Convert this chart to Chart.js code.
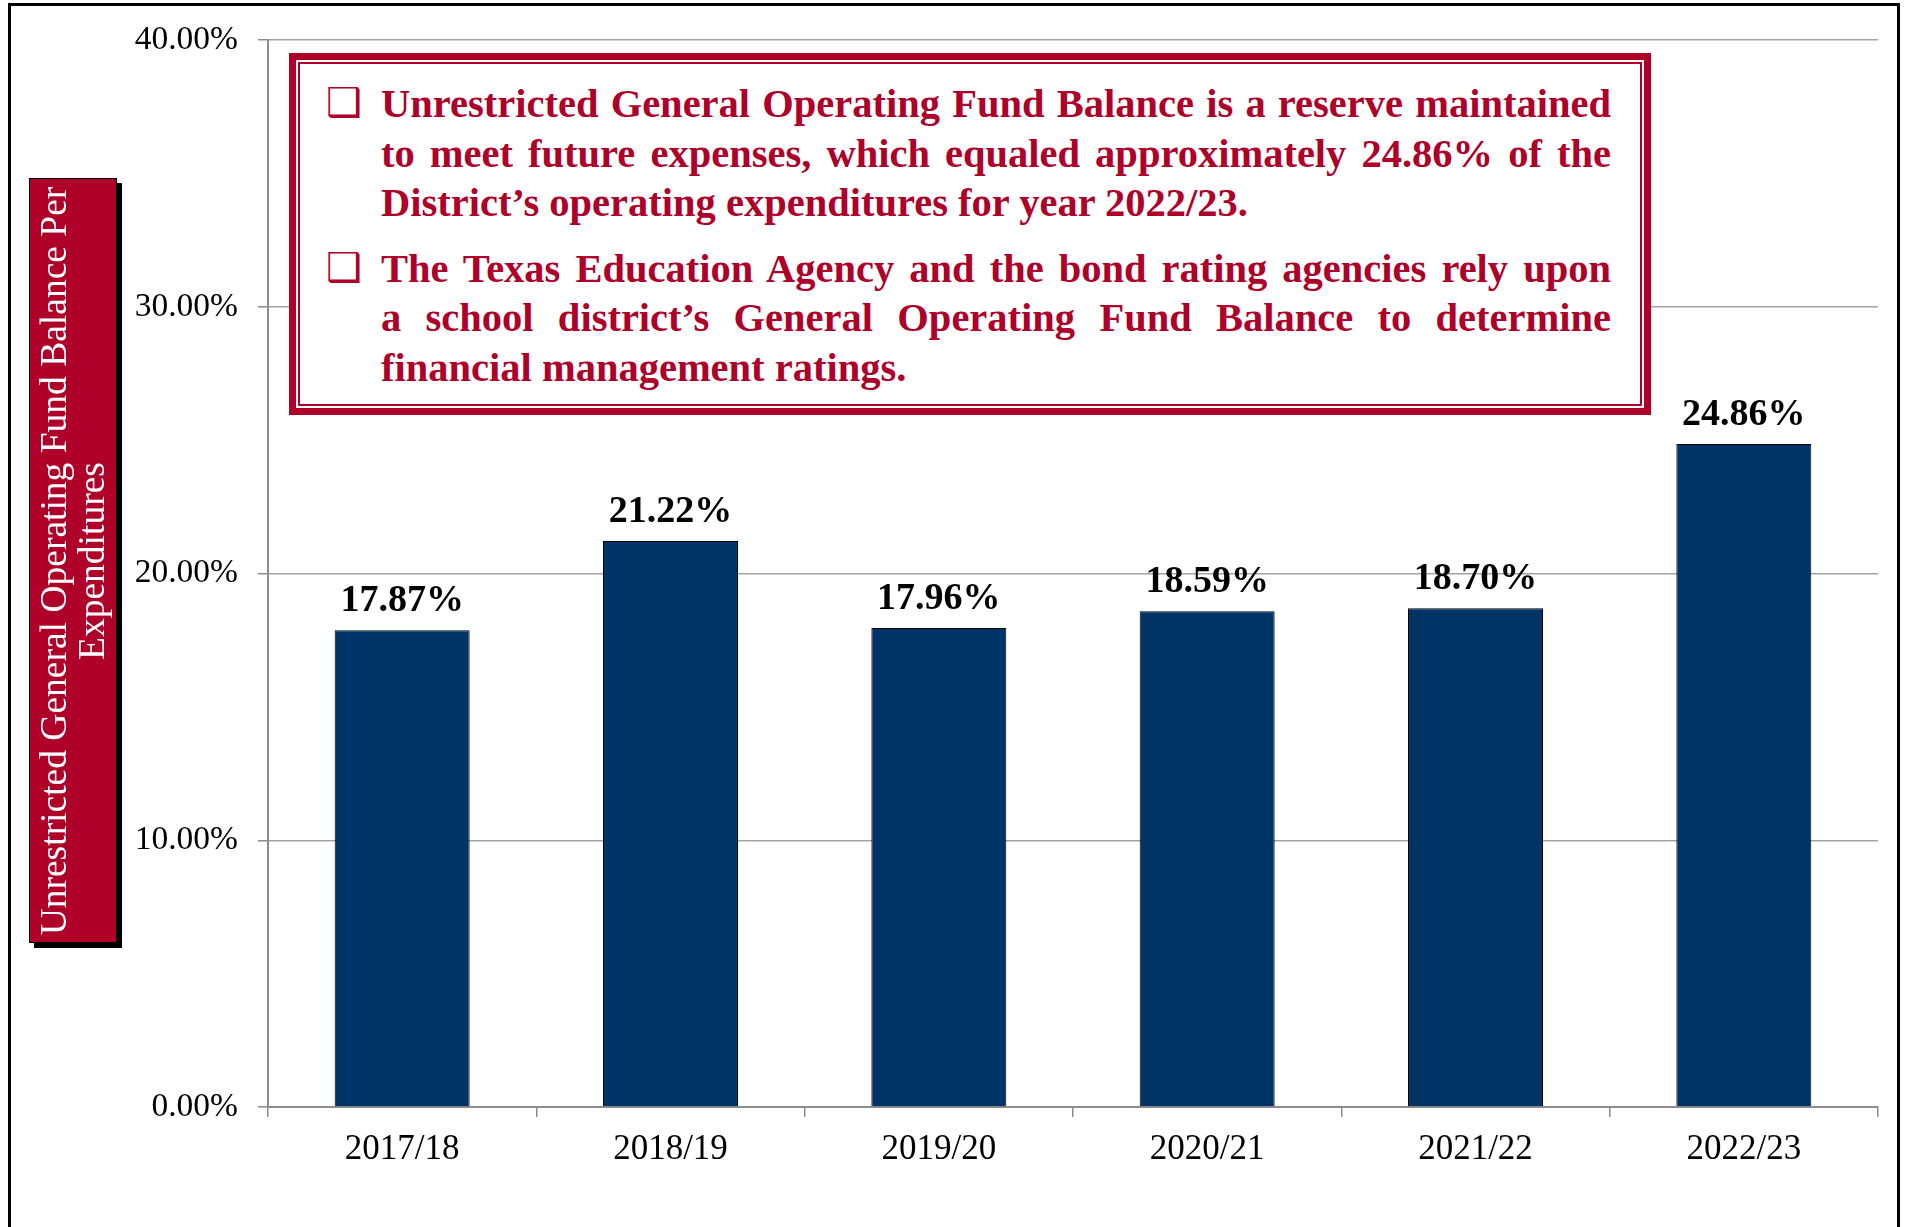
<!DOCTYPE html>
<html>
<head>
<meta charset="utf-8">
<script src="https://cdn.jsdelivr.net/npm/chart.js@4.4.1/dist/chart.umd.min.js"></script>
<style>
  html, body { margin: 0; padding: 0; background: #fff; overflow: hidden; }
  body { width: 1911px; height: 1227px; position: relative; font-family: "Liberation Serif", serif; }
  #frame { position: absolute; left: 8px; top: 3px; width: 1892px; height: 1300px; border: 3px solid #000; box-sizing: border-box; }
  #chart { position: absolute; left: 0; top: 0; }
  #ytitle { position: absolute; left: 29px; top: 178px; width: 88px; height: 765px; background: #ae0029;
            border: 1px solid #000; box-sizing: border-box; box-shadow: 5px 5px 0 #000; }
  #ytitle div { position: absolute; left: 50%; top: 50%; width: 765px; transform: translate(-50%, -50%) rotate(-90deg);
                text-align: center; color: #fff; font-size: 37.5px; line-height: 38px; white-space: nowrap; }
  #note { position: absolute; left: 289px; top: 53px; width: 1362px; height: 362px; background: #fff;
          border: 7px solid #ae0029; box-sizing: border-box; }
  #note .inner { position: absolute; left: 2px; top: 2px; right: 2px; bottom: 2px; border: 2px solid #ae0029; }
  #note .txt { position: absolute; left: 85px; right: 33px; top: 19px; color: #ae0029; font-weight: bold;
               font-size: 40.5px; line-height: 49.5px; }
  #note p { margin: 0 0 16px 0; position: relative; }
  #note .ln { display: block; text-align: justify; text-align-last: justify; white-space: nowrap; }
  #note .last { text-align: left; text-align-last: left; }
  #note .bul { position: absolute; left: -55px; top: -1px; font-family: "DejaVu Sans"; font-weight: normal; font-size: 40px; }
</style>
</head>
<body>
<div id="frame"></div>
<canvas id="chart" width="1911" height="1227"></canvas>
<div id="ytitle"><div>Unrestricted General Operating Fund Balance Per<br>Expenditures</div></div>
<div id="note">
  <div class="inner"></div>
  <div class="txt">
    <p><span class="bul">❑</span>
      <span class="ln">Unrestricted General Operating Fund Balance is a reserve maintained</span>
      <span class="ln">to meet future expenses, which equaled approximately 24.86% of the</span>
      <span class="ln last">District’s operating expenditures for year 2022/23.</span>
    </p>
    <p><span class="bul">❑</span>
      <span class="ln">The Texas Education Agency and the bond rating agencies rely upon</span>
      <span class="ln">a school district’s General Operating Fund Balance to determine</span>
      <span class="ln last">financial management ratings.</span>
    </p>
  </div>
</div>
<script>
// dades del gràfic
const years = ['2017/18', '2018/19', '2019/20', '2020/21', '2021/22', '2022/23'];
const balancePct = [17.87, 21.22, 17.96, 18.59, 18.70, 24.86];
const yTicks = [0, 10, 20, 30, 40];

const gridGray = '#a3a3a3';
const axisGray = '#8c8c8c';

// etiquetes a sobre de cada barra
const barLabels = {
  id: 'barLabels',
  afterDatasetsDraw(chart) {
    const ctx = chart.ctx;
    const meta = chart.getDatasetMeta(0);
    ctx.save();
    ctx.font = 'bold 38px "Liberation Serif"';
    ctx.fillStyle = '#000';
    ctx.textAlign = 'center';
    ctx.textBaseline = 'alphabetic';
    meta.data.forEach((bar, i) => {
      ctx.fillText(balancePct[i].toFixed(2) + '%', bar.x, bar.y - 19);
    });
    ctx.restore();
  }
};

const config = {
  type: 'bar',
  data: {
    labels: years,
    datasets: [{
      data: balancePct,
      backgroundColor: '#003366',
      borderColor: '#000',
      borderWidth: 1,
      categoryPercentage: 1,
      barPercentage: 0.503
    }]
  },
  options: {
    responsive: false,
    animation: false,
    layout: { padding: { left: 0, right: 33, top: 38, bottom: 0 } },
    plugins: { legend: { display: false }, tooltip: { enabled: false } },
    scales: {
      x: {
        grid: {
          offset: true,
          color: (c) => c.index === years.length ? gridGray : 'transparent',
          tickColor: axisGray,
          tickLength: 10,
          lineWidth: 1.5
        },
        border: { color: axisGray, width: 2 },
        ticks: { color: '#000', padding: 12, font: { family: 'Liberation Serif', size: 35 } },
        afterFit: (scale) => { scale.height = 120; }
      },
      y: {
        min: 0,
        max: 40,
        afterBuildTicks: (scale) => { scale.ticks = yTicks.map(v => ({ value: v })); },
        grid: { color: gridGray, lineWidth: 1.5, tickColor: axisGray, tickLength: 10 },
        border: { color: axisGray, width: 2 },
        ticks: {
          color: '#000',
          padding: 20,
          font: { family: 'Liberation Serif', size: 33.5 },
          callback: (v) => v.toFixed(2) + '%'
        },
        afterFit: (scale) => { scale.width = 268; }
      }
    }
  },
  plugins: [barLabels]
};

const myChart = new Chart(document.getElementById('chart'), config);
</script>
</body>
</html>
